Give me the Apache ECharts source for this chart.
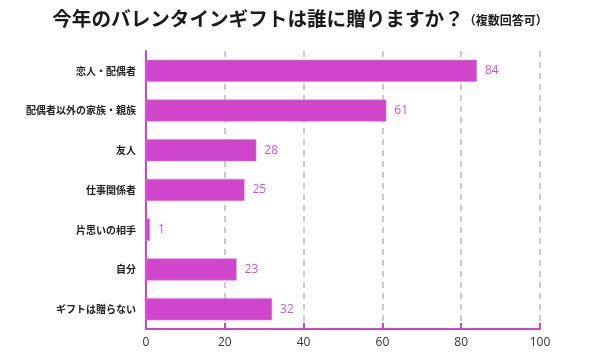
<!DOCTYPE html>
<html><head><meta charset="utf-8">
<script src="https://cdn.jsdelivr.net/npm/echarts@6/dist/echarts.min.js"></script>
<style>html,body{margin:0;padding:0;background:#fff}#c{width:600px;height:360px}</style>
</head><body><div id="c"></div>
<script>
var categories = ["恋人・配偶者","配偶者以外の家族・親族","友人","仕事関係者","片思いの相手","自分","ギフトは贈らない"];
var values = [84, 61, 28, 25, 1, 23, 32];
var xTicks = [0, 20, 40, 60, 80, 100];
var titleMain = "今年のバレンタインギフトは誰に贈りますか？";
var titleSub = "（複数回答可）";

var chart = echarts.init(document.getElementById('c'));
chart.setOption({
  animation: false,
  textStyle: {fontFamily: "'Noto Sans CJK JP', sans-serif"},
  title: {
    text: "{a|" + titleMain + "}{b|" + titleSub + "}",
    left: 'center', top: 4,
    textStyle: {
      rich: {
        a: {fontSize: 19.6, fontWeight: 'bold', color: '#1a1a1a', fontFamily: "'Noto Sans CJK JP', sans-serif"},
        b: {fontSize: 12, fontWeight: 'bold', color: '#1a1a1a', fontFamily: "'Noto Sans CJK JP', sans-serif", padding: [4,0,0,0]}
      }
    }
  },
  grid: {left: 146, right: 60, top: 51, bottom: 31, containLabel: false},
  xAxis: {
    type: 'value', min: xTicks[0], max: xTicks[xTicks.length-1], interval: 20,
    axisLine: {show: true, lineStyle: {color: '#cc44cc', width: 2}},
    axisTick: {show: true, inside: true, length: 6, lineStyle: {color: '#cc44cc', width: 2}},
    axisLabel: {color: '#333', fontSize: 12, margin: 8, fontFamily: "'Open Sans', sans-serif"},
    splitLine: {show: true, lineStyle: {color: '#bbbbbb', type: [6, 5], width: 1.5}}
  },
  yAxis: {
    type: 'category', data: categories, inverse: true,
    axisLine: {show: true, lineStyle: {color: '#cc44cc', width: 2}},
    axisTick: {show: false},
    axisLabel: {color: '#222', fontSize: 10, fontWeight: 'bold', margin: 10}
  },
  series: [{
    type: 'bar', data: values, barWidth: 22,
    itemStyle: {color: '#cf45cc', borderColor: '#e07ee0', borderWidth: 0.5},
    label: {show: true, position: 'right', distance: 8, color: '#d94fd9', fontSize: 12, fontFamily: "'Open Sans', sans-serif"}
  }]
});
</script></body></html>
